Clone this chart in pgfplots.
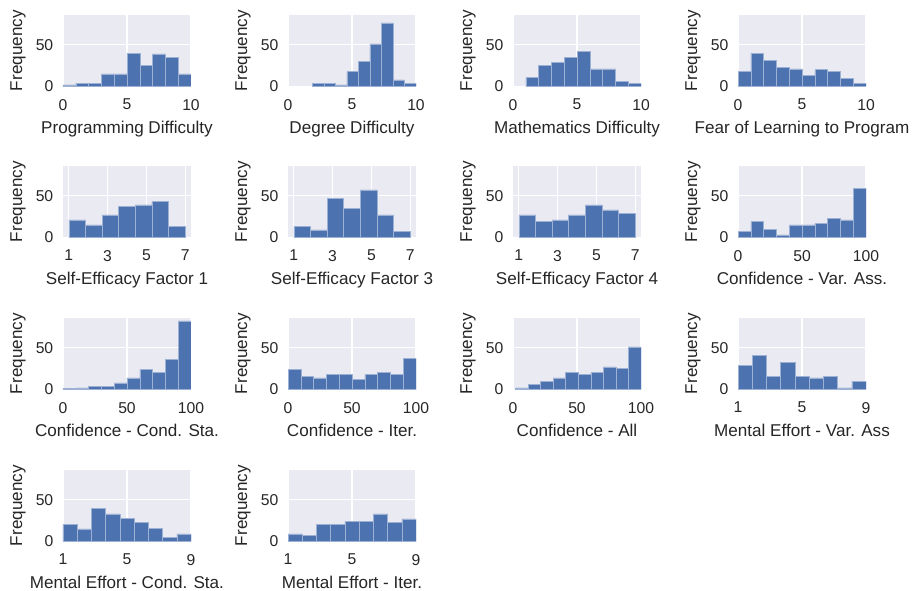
\documentclass[border=0pt]{standalone}
\usepackage{fontspec}
\setmainfont{Liberation Sans}
\usepackage{pgfplots}
\pgfplotsset{compat=1.18}
\definecolor{sbblue}{HTML}{4C72B0}
\definecolor{sbbg}{HTML}{EAEAF2}
\definecolor{sbtext}{HTML}{262626}
\newcommand{\ticksize}{\fontsize{11.3}{13}\selectfont}
\newcommand{\labsize}{\fontsize{12.3}{14}\selectfont}
\pgfplotsset{
  panel/.style={
    scale only axis, width=92.16pt, height=51.48pt,
    anchor=south west,
    ymin=0, ymax=85.5, ytick={0,50},
    axis background/.style={fill=sbbg},
    axis line style={draw=none},
    grid=major, major grid style={white, line width=0.9pt},
    major tick length=0pt,
    tick label style={font=\ticksize, text=sbtext},
    /pgf/number format/assume math mode=true,
    xticklabel style={yshift=-5.6pt},
    yticklabel style={xshift=-3.5pt},
    every axis x label/.style={at={(axis description cs:0.5,0)}, yshift=-33.8pt, anchor=base, font=\labsize, text=sbtext},
    every axis y label/.style={at={(axis description cs:0,0.5)}, xshift=-32.4pt, rotate=90, anchor=center, font=\labsize, text=sbtext},
    ylabel={Frequency},
  },
  hbar/.style={ybar interval, fill=sbblue, draw=sbblue!55!white, line width=0.4pt},
}
\begin{document}
\begin{tikzpicture}
\useasboundingbox (0,0) rectangle (659.52pt,425.52pt);
% Row 1
\begin{axis}[panel, at={(45.36pt,363.24pt)}, xmin=0, xmax=10, xtick={0,5,10}, xlabel={Programming Difficulty}]
\addplot[hbar] coordinates {(0,2) (1,4) (2,4) (3,15) (4,15) (5,40) (6,25) (7,39) (8,35) (9,15) (10,15)};
\end{axis}
\begin{axis}[panel, at={(207.36pt,363.24pt)}, xmin=0, xmax=10, xtick={0,5,10}, xlabel={Degree Difficulty}]
\addplot[hbar] coordinates {(1.9,4) (2.8,4) (3.7,2) (4.6,18) (5.5,30) (6.4,51) (7.3,76) (8.2,8) (9.1,4) (10,4)};
\end{axis}
\begin{axis}[panel, at={(369.36pt,363.24pt)}, xmin=0, xmax=10, xtick={0,5,10}, xlabel={Mathematics Difficulty}]
\addplot[hbar] coordinates {(1,11) (2,25) (3,29) (4,35) (5,42) (6,21) (7,21) (8,6) (9,4) (10,4)};
\end{axis}
\begin{axis}[panel, at={(531.36pt,363.24pt)}, xmin=0, xmax=10, xtick={0,5,10}, xlabel={Fear of Learning to Program}]
\addplot[hbar] coordinates {(0,18) (1,40) (2,31) (3,23) (4,21) (5,13) (6,20) (7,18) (8,10) (9,4) (10,4)};
\end{axis}
% Row 2
\begin{axis}[panel, at={(45.36pt,254.52pt)}, xmin=0.7, xmax=7.3, xtick={1,3,5,7}, xlabel={Self-Efficacy Factor 1}]
\addplot[hbar] coordinates {(1,21) (1.857,15) (2.714,27) (3.571,37) (4.429,39) (5.286,43) (6.143,13) (7,13)};
\end{axis}
\begin{axis}[panel, at={(207.36pt,254.52pt)}, xmin=0.7, xmax=7.3, xtick={1,3,5,7}, xlabel={Self-Efficacy Factor 3}]
\addplot[hbar] coordinates {(1,13) (1.857,9) (2.714,47) (3.571,35) (4.429,57) (5.286,27) (6.143,7) (7,7)};
\end{axis}
\begin{axis}[panel, at={(369.36pt,254.52pt)}, xmin=0.7, xmax=7.3, xtick={1,3,5,7}, xlabel={Self-Efficacy Factor 4}]
\addplot[hbar] coordinates {(1,27) (1.857,19) (2.714,21) (3.571,27) (4.429,39) (5.286,33) (6.143,29) (7,29)};
\end{axis}
\begin{axis}[panel, at={(531.36pt,254.52pt)}, xmin=0, xmax=100, xtick={0,50,100}, xlabel={Confidence - Var. Ass.}]
\addplot[hbar] coordinates {(0,7) (10,19) (20,10) (30,3) (40,15) (50,15) (60,17) (70,23) (80,21) (90,59) (100,59)};
\end{axis}
% Row 3
\begin{axis}[panel, at={(45.36pt,145.08pt)}, xmin=0, xmax=100, xtick={0,50,100}, xlabel={Confidence - Cond. Sta.}]
\addplot[hbar] coordinates {(0,1) (10,2) (20,4) (30,4) (40,8) (50,14) (60,24) (70,20) (80,36) (90,82) (100,82)};
\end{axis}
\begin{axis}[panel, at={(207.36pt,145.08pt)}, xmin=0, xmax=100, xtick={0,50,100}, xlabel={Confidence - Iter.}]
\addplot[hbar] coordinates {(0,24) (10,16) (20,14) (30,18) (40,18) (50,12) (60,18) (70,20) (80,18) (90,37) (100,37)};
\end{axis}
\begin{axis}[panel, at={(369.36pt,145.08pt)}, xmin=0, xmax=100, xtick={0,50,100}, xlabel={Confidence - All}]
\addplot[hbar] coordinates {(2,2) (11.8,6) (21.6,10) (31.4,14) (41.2,20) (51,18) (60.8,20) (70.6,27) (80.4,25) (90.2,51) (100,51)};
\end{axis}
\begin{axis}[panel, at={(531.36pt,145.08pt)}, xmin=1, xmax=9, xtick={1,5,9}, xlabel={Mental Effort - Var. Ass}]
\addplot[hbar] coordinates {(1,29) (1.889,41) (2.778,16) (3.667,32) (4.556,16) (5.444,14) (6.333,16) (7.222,2) (8.111,10) (9,10)};
\end{axis}
% Row 4
\begin{axis}[panel, at={(45.36pt,35.64pt)}, xmin=1, xmax=9, xtick={1,5,9}, xlabel={Mental Effort - Cond. Sta.}]
\addplot[hbar] coordinates {(1,20) (1.889,15) (2.778,40) (3.667,33) (4.556,28) (5.444,23) (6.333,16) (7.222,5) (8.111,9) (9,9)};
\end{axis}
\begin{axis}[panel, at={(207.36pt,35.64pt)}, xmin=1, xmax=9, xtick={1,5,9}, xlabel={Mental Effort - Iter.}]
\addplot[hbar] coordinates {(1,9) (1.889,7) (2.778,20) (3.667,20) (4.556,24) (5.444,24) (6.333,33) (7.222,23) (8.111,27) (9,27)};
\end{axis}
\end{tikzpicture}
\end{document}
